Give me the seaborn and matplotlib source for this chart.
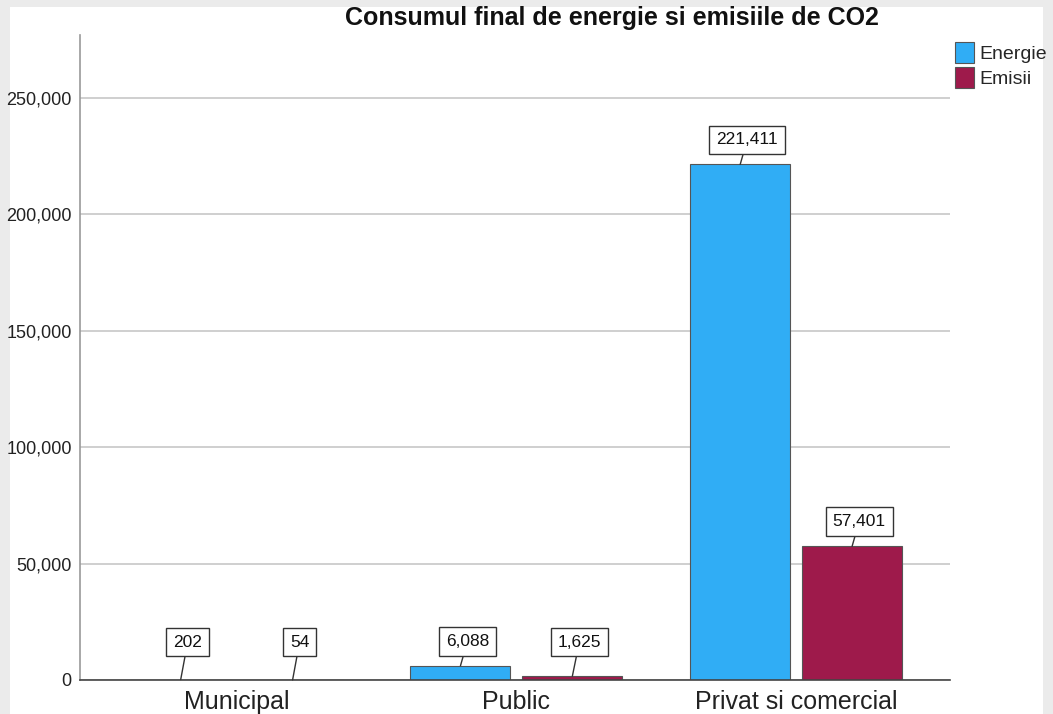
import matplotlib
matplotlib.use("Agg")
import matplotlib.pyplot as plt
from matplotlib.patches import Rectangle
import pandas as pd
import seaborn as sns

categories = ["Municipal", "Public", "Privat si comercial"]
energie = [202, 6088, 221411]
emisii = [54, 1625, 57401]
series_names = ["Energie", "Emisii"]
y_ticks = [0, 50000, 100000, 150000, 200000, 250000]
title = "Consumul final de energie si emisiile de CO2"

df = pd.DataFrame({
    "categorie": categories * 2,
    "serie": [series_names[0]] * len(categories) + [series_names[1]] * len(categories),
    "valoare": energie + emisii,
})

sns.set_theme(style="white")
plt.rcParams["font.family"] = ["Liberation Sans", "DejaVu Sans"]

fig = plt.figure(figsize=(10.53, 7.14), dpi=100, facecolor="#ebebeb")
# white panel behind the chart
fig.patches.append(Rectangle((10 / 1053, 0), 1033 / 1053, 707 / 714,
                             transform=fig.transFigure, facecolor="white",
                             edgecolor="none", zorder=-10))
ax = fig.add_axes([80 / 1053, 1 - 680 / 714, 870 / 1053, 645 / 714])
ax.set_zorder(2)
ax.set_facecolor("none")

palette = {"Energie": "#30adf5", "Emisii": "#9e1a4b"}
sns.barplot(data=df, x="categorie", y="valoare", hue="serie", order=categories,
            hue_order=series_names, palette=palette, width=0.80, gap=0.107,
            edgecolor="#555555", linewidth=0.8, saturation=1, ax=ax, zorder=3)

ax.set_ylim(0, 277000)
ax.set_xlim(-0.56, 2.55)
ax.set_yticks(y_ticks)
ax.set_yticklabels([f"{t:,}" for t in y_ticks], fontsize=13, color="#222222")
ax.tick_params(axis="x", labelsize=18, colors="#222222", length=0, pad=7.5)
ax.tick_params(axis="y", length=0, pad=6)
ax.yaxis.grid(True, color="#cccccc", linewidth=1.3, zorder=0)
ax.set_axisbelow(True)
ax.set_xlabel("")
ax.set_ylabel("")
for side in ["top", "right"]:
    ax.spines[side].set_visible(False)
ax.spines["left"].set_color("#999999")
ax.spines["left"].set_linewidth(1.2)
ax.spines["bottom"].set_color("#444444")
ax.spines["bottom"].set_linewidth(1.2)
ax.spines["bottom"].set_zorder(5)

# value labels in boxes with short leader lines
values = [energie, emisii]
for container, vals in zip(ax.containers, values):
    for bar, v in zip(container, vals):
        cx = bar.get_x() + bar.get_width() / 2
        ty = max(v + 10500, 16300)
        ax.annotate(f"{v:,}", xy=(cx, v), xytext=(cx + 0.025, ty),
                    ha="center", va="center", fontsize=12.5, color="#111111",
                    bbox=dict(boxstyle="square,pad=0.4", facecolor="white",
                              edgecolor="#333333", linewidth=1),
                    arrowprops=dict(arrowstyle="-", color="#333333", lw=1,
                                    shrinkA=0, shrinkB=0),
                    zorder=6)

ax.legend_.remove()
handles = [Rectangle((0, 0), 1, 1, facecolor=palette[n], edgecolor="#555555", linewidth=0.8)
           for n in series_names]
fig.legend(handles, series_names, loc="upper left", bbox_to_anchor=(941 / 1053, 1 - 28 / 714),
           frameon=False, fontsize=14, handlelength=1.0, handleheight=1.3,
           handletextpad=0.25, labelspacing=0.2, borderpad=0.2)

fig.text(612 / 1053, 1 - 18 / 714, title, ha="center", va="center",
         fontsize=18, fontweight="bold", color="#111111")

fig.savefig("out.png", dpi=100, facecolor=fig.get_facecolor())
